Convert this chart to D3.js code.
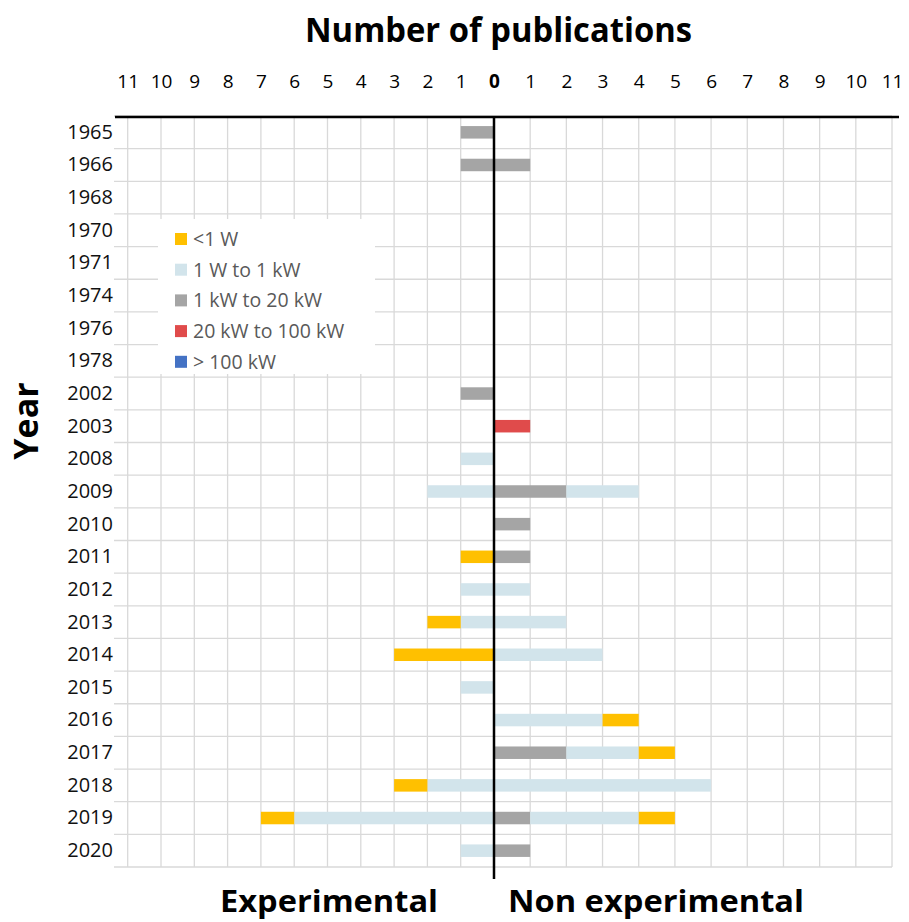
<!DOCTYPE html>
<html>
<head>
<meta charset="utf-8">
<script src="https://cdn.jsdelivr.net/npm/d3@7"></script>
<style>
  body { margin: 0; background: #fff; }
  svg { display: block; font-family: 'Open Sans', sans-serif; }
</style>
</head>
<body>
<svg id="chart"></svg>
<script>
// categories (top to bottom)
const years = ['1965','1966','1968','1970','1971','1974','1976','1978','2002','2003','2008','2009',
  '2010','2011','2012','2013','2014','2015','2016','2017','2018','2019','2020'];

// stacking order, from the centre line outwards
const seriesKeys = ['> 100 kW', '20 kW to 100 kW', '1 kW to 20 kW', '1 W to 1 kW', '<1 W'];
const seriesColors = ['#4472C4', '#E04B4B', '#A5A5A5', '#D2E4EB', '#FFC000'];
// legend shows them the other way round
const legendKeys = ['<1 W', '1 W to 1 kW', '1 kW to 20 kW', '20 kW to 100 kW', '> 100 kW'];

// Experimental (left)
const expUnder1W   = [0,0,0,0,0,0,0,0,0,0,0,0,0,1,0,1,3,0,0,0,1,1,0];
const exp1Wto1kW   = [0,0,0,0,0,0,0,0,0,0,1,2,0,0,1,1,0,1,0,0,2,6,1];
const exp1to20kW   = [1,1,0,0,0,0,0,0,1,0,0,0,0,0,0,0,0,0,0,0,0,0,0];
const exp20to100kW = [0,0,0,0,0,0,0,0,0,0,0,0,0,0,0,0,0,0,0,0,0,0,0];
const expOver100kW = [0,0,0,0,0,0,0,0,0,0,0,0,0,0,0,0,0,0,0,0,0,0,0];

// Non experimental (right)
const nonUnder1W   = [0,0,0,0,0,0,0,0,0,0,0,0,0,0,0,0,0,0,1,1,0,1,0];
const non1Wto1kW   = [0,0,0,0,0,0,0,0,0,0,0,2,0,0,1,2,3,0,3,2,6,3,0];
const non1to20kW   = [0,1,0,0,0,0,0,0,0,0,0,2,1,1,0,0,0,0,0,2,0,1,1];
const non20to100kW = [0,0,0,0,0,0,0,0,0,1,0,0,0,0,0,0,0,0,0,0,0,0,0];
const nonOver100kW = [0,0,0,0,0,0,0,0,0,0,0,0,0,0,0,0,0,0,0,0,0,0,0];

const xTicks = [0,1,2,3,4,5,6,7,8,9,10,11];

const width = 909, height = 922;
const svg = d3.select('#chart').attr('width', width).attr('height', height);

const x0 = 494;
const xL = d3.scaleLinear().domain([0, 11]).range([x0, 127.7]);
const xR = d3.scaleLinear().domain([0, 11]).range([x0, 892]);
const y = d3.scaleBand().domain(years).range([116, 867]).padding(0);
const barH = 12.5;

function toRows(arrs) {
  return years.map((yr, i) => {
    const r = { year: yr };
    seriesKeys.forEach((k, j) => r[k] = arrs[j][i]);
    return r;
  });
}
const expRows = toRows([expOver100kW, exp20to100kW, exp1to20kW, exp1Wto1kW, expUnder1W]);
const nonRows = toRows([nonOver100kW, non20to100kW, non1to20kW, non1Wto1kW, nonUnder1W]);
const stack = d3.stack().keys(seriesKeys);
const color = d3.scaleOrdinal().domain(seriesKeys).range(seriesColors);

// grid
const grid = svg.append('g').attr('stroke', '#D9D9D9').attr('stroke-width', 1.3);
grid.selectAll('.hl')
  .data(years.map(d => y(d)).concat([y.range()[1]]))
  .enter().append('line')
  .attr('x1', 114).attr('x2', xR(11))
  .attr('y1', d => d).attr('y2', d => d);
grid.selectAll('.vl')
  .data(xTicks.filter(d => d > 0))
  .enter().append('line')
  .attr('x1', d => xL(d)).attr('x2', d => xL(d))
  .attr('y1', y.range()[0]).attr('y2', y.range()[1]);
grid.selectAll('.vr')
  .data(xTicks.filter(d => d > 0))
  .enter().append('line')
  .attr('x1', d => xR(d)).attr('x2', d => xR(d))
  .attr('y1', y.range()[0]).attr('y2', y.range()[1]);

// bars
function drawSide(rows, x) {
  svg.append('g').selectAll('g')
    .data(stack(rows))
    .enter().append('g')
    .attr('fill', d => color(d.key))
    .selectAll('rect')
    .data(d => d.filter(s => s[1] > s[0]))
    .enter().append('rect')
    .attr('x', s => Math.min(x(s[0]), x(s[1])))
    .attr('width', s => Math.abs(x(s[1]) - x(s[0])))
    .attr('y', s => y(s.data.year) + (y.bandwidth() - barH) / 2)
    .attr('height', barH);
}
drawSide(expRows, xL);
drawSide(nonRows, xR);

// black axis lines
svg.append('line').attr('x1', 115).attr('x2', 899).attr('y1', 117).attr('y2', 117)
  .attr('stroke', '#000').attr('stroke-width', 2.5);
svg.append('line').attr('x1', x0).attr('x2', x0).attr('y1', 117).attr('y2', 879)
  .attr('stroke', '#000').attr('stroke-width', 2.5);

// top tick labels
function topAxis(x, ticks) {
  const g = svg.append('g').attr('transform', 'translate(0,116)')
    .call(d3.axisTop(x).tickValues(ticks).tickSize(0).tickPadding(28).tickFormat(d3.format('d')));
  g.select('.domain').remove();
  g.selectAll('text').attr('font-size', 19).attr('font-family', "'Open Sans', sans-serif").attr('fill', '#000');
  return g;
}
topAxis(xL, xTicks.filter(d => d > 0));
topAxis(xR, xTicks).selectAll('text').filter(d => d === 0).attr('font-weight', 'bold');

// year labels
const ya = svg.append('g').attr('transform', 'translate(114,0)')
  .call(d3.axisLeft(y).tickSize(0).tickPadding(1));
ya.select('.domain').remove();
ya.selectAll('text').attr('font-size', 20).attr('font-family', "'Open Sans', sans-serif").attr('fill', '#111');

// titles
svg.append('text').attr('x', 498.5).attr('y', 42).attr('text-anchor', 'middle')
  .attr('font-size', 34).attr('font-weight', 'bold')
  .attr('textLength', 387).attr('lengthAdjust', 'spacingAndGlyphs')
  .text('Number of publications');
svg.append('text').attr('transform', 'translate(38,421) rotate(-90)').attr('text-anchor', 'middle')
  .attr('font-size', 34).attr('font-weight', 'bold')
  .text('Year');
svg.append('text').attr('x', 329).attr('y', 912).attr('text-anchor', 'middle')
  .attr('font-size', 31).attr('font-weight', 'bold')
  .attr('textLength', 218).attr('lengthAdjust', 'spacingAndGlyphs')
  .text('Experimental');
svg.append('text').attr('x', 656).attr('y', 912).attr('text-anchor', 'middle')
  .attr('font-size', 31).attr('font-weight', 'bold')
  .attr('textLength', 296).attr('lengthAdjust', 'spacingAndGlyphs')
  .text('Non experimental');

// legend
const legend = svg.append('g');
legend.append('rect').attr('x', 158).attr('y', 219).attr('width', 217).attr('height', 155).attr('fill', '#fff');
const li = legend.selectAll('.item').data(legendKeys).enter().append('g')
  .attr('transform', (d, i) => `translate(175,${239 + i * 30.7})`);
li.append('rect').attr('x', 0).attr('y', -6).attr('width', 12).attr('height', 12).attr('fill', d => color(d));
li.append('text').attr('x', 18).attr('y', 7).attr('font-size', 19.5).attr('fill', '#595959').text(d => d);
</script>
</body>
</html>
